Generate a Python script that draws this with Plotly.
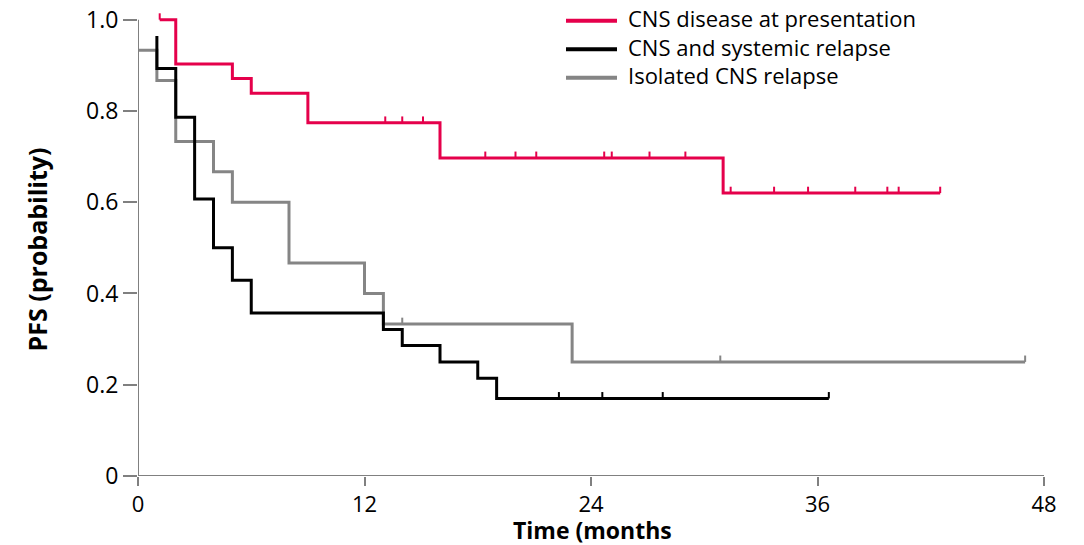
import plotly.graph_objects as go

# Kaplan-Meier style PFS curves: start point, event times with survival after each
# event, censoring times and the time of last follow-up.
series_names = ["CNS disease at presentation", "CNS and systemic relapse", "Isolated CNS relapse"]
series_colors = ["#E5004B", "#000000", "#858585"]

red_start = (1.15, 1.0)
red_event_t = [2, 5, 6, 9, 16, 31]
red_event_s = [0.903, 0.871, 0.839, 0.774, 0.697, 0.620]
red_censor_t = [1.15, 13.1, 14.0, 15.1, 18.4, 20.0, 21.1, 24.7, 25.1, 27.1, 29.0,
                31.4, 33.7, 35.5, 38.0, 39.7, 40.3, 42.5]
red_end = 42.5

black_start = (1.0, 0.964)
black_event_t = [1, 2, 3, 4, 5, 6, 13, 14, 16, 18, 19]
black_event_s = [0.893, 0.786, 0.607, 0.500, 0.429, 0.357, 0.321, 0.286, 0.250, 0.214, 0.170]
black_censor_t = [22.3, 24.6, 27.8, 36.6]
black_end = 36.6

gray_start = (0.0, 0.933)
gray_event_t = [1, 2, 4, 5, 8, 12, 13, 23]
gray_event_s = [0.867, 0.733, 0.667, 0.600, 0.467, 0.400, 0.333, 0.250]
gray_censor_t = [14.0, 30.85, 47.0]
gray_end = 47.0

x_ticks = [0, 12, 24, 36, 48]
y_ticks = [0, 0.2, 0.4, 0.6, 0.8, 1.0]
y_tick_text = ["0", "0.2", "0.4", "0.6", "0.8", "1.0"]

FONT = "'Open Sans', sans-serif"
W, H = 1084, 545
L, R, T, B = 138, 40, 3, 69
Y_MAX = 1.03
CENSOR_H = 0.014
LEGEND_SIZE = 22
LEGEND_LINE_H = LEGEND_SIZE * 1.3  # plotly's multi-line text spacing


def step_value(t, start, ev_t, ev_s):
    s = start[1]
    for et, es in zip(ev_t, ev_s):
        if et <= t:
            s = es
    return s


def px_x(x):
    return (x - L) / (W - L - R)


def px_y(y):
    return (H - B - y) / (H - T - B)


fig = go.Figure()
groups = [
    (red_start, red_event_t, red_event_s, red_censor_t, red_end),
    (black_start, black_event_t, black_event_s, black_censor_t, black_end),
    (gray_start, gray_event_t, gray_event_s, gray_censor_t, gray_end),
]

# draw the grey curve first so black and red sit on top of it
for idx in [2, 1, 0]:
    start, ev_t, ev_s, cen_t, end_t = groups[idx]
    color = series_colors[idx]
    xs = [start[0]] + list(ev_t) + [end_t]
    ys = [start[1]] + list(ev_s) + [ev_s[-1]]
    fig.add_trace(go.Scatter(
        x=xs, y=ys, mode="lines", line=dict(color=color, width=3, shape="hv"),
        name=series_names[idx], showlegend=False, hoverinfo="skip"))
    cx, cy = [], []
    for t in cen_t:
        s = step_value(t, start, ev_t, ev_s)
        cx += [t, t, None]
        cy += [s, s + CENSOR_H, None]
    fig.add_trace(go.Scatter(
        x=cx, y=cy, mode="lines", line=dict(color=color, width=2),
        showlegend=False, hoverinfo="skip"))

shapes = [
    dict(type="line", xref="x", yref="y", x0=0, x1=0, y0=0, y1=1.0,
         line=dict(color="#808080", width=2)),
    dict(type="line", xref="x", yref="y", x0=0, x1=48, y0=0, y1=0,
         line=dict(color="#808080", width=2)),
]
annotations = []

# legend drawn by hand: one three-line label block plus a line sample per row
legend_mid = 46.5
for i in range(len(series_names)):
    yy = legend_mid + (i - 1) * LEGEND_LINE_H
    shapes.append(dict(type="line", xref="paper", yref="paper",
                       x0=px_x(566), x1=px_x(617), y0=px_y(yy), y1=px_y(yy),
                       line=dict(color=series_colors[i], width=4)))
annotations.append(dict(xref="paper", yref="paper", x=px_x(627), y=px_y(legend_mid - 2.5),
                        xanchor="left", yanchor="middle", align="left",
                        showarrow=False, borderpad=0,
                        text="<br>".join(series_names),
                        font=dict(family=FONT, size=LEGEND_SIZE, color="#000000")))

annotations.append(dict(xref="paper", yref="paper", x=px_x(37), y=px_y(248),
                        xanchor="center", yanchor="middle", showarrow=False,
                        textangle=-90, text="<b>PFS (probability)</b>",
                        font=dict(family=FONT, size=25, color="#000000")))
annotations.append(dict(xref="paper", yref="paper", x=px_x(592), y=px_y(530),
                        xanchor="center", yanchor="middle", showarrow=False,
                        borderpad=0, text="<b>Time (months</b>",
                        font=dict(family=FONT, size=23, color="#000000")))

fig.update_layout(
    width=W, height=H,
    margin=dict(l=L, r=R, t=T, b=B, pad=0),
    plot_bgcolor="white", paper_bgcolor="white",
    showlegend=False,
    shapes=shapes, annotations=annotations,
    xaxis=dict(range=[0, 48], tickvals=x_ticks, ticktext=[str(v) for v in x_ticks],
               showgrid=False, zeroline=False, showline=False,
               ticks="outside", ticklen=9, tickwidth=2, tickcolor="#808080",
               ticklabeloverflow="allow",
               tickfont=dict(family=FONT, size=22, color="#000000")),
    yaxis=dict(range=[0, Y_MAX], tickvals=y_ticks, ticktext=y_tick_text,
               showgrid=False, zeroline=False, showline=False,
               ticks="outside", ticklen=14, tickwidth=2, tickcolor="#808080",
               ticklabeloverflow="allow",
               tickfont=dict(family=FONT, size=23, color="#000000")),
)

fig.write_html("out.html")
